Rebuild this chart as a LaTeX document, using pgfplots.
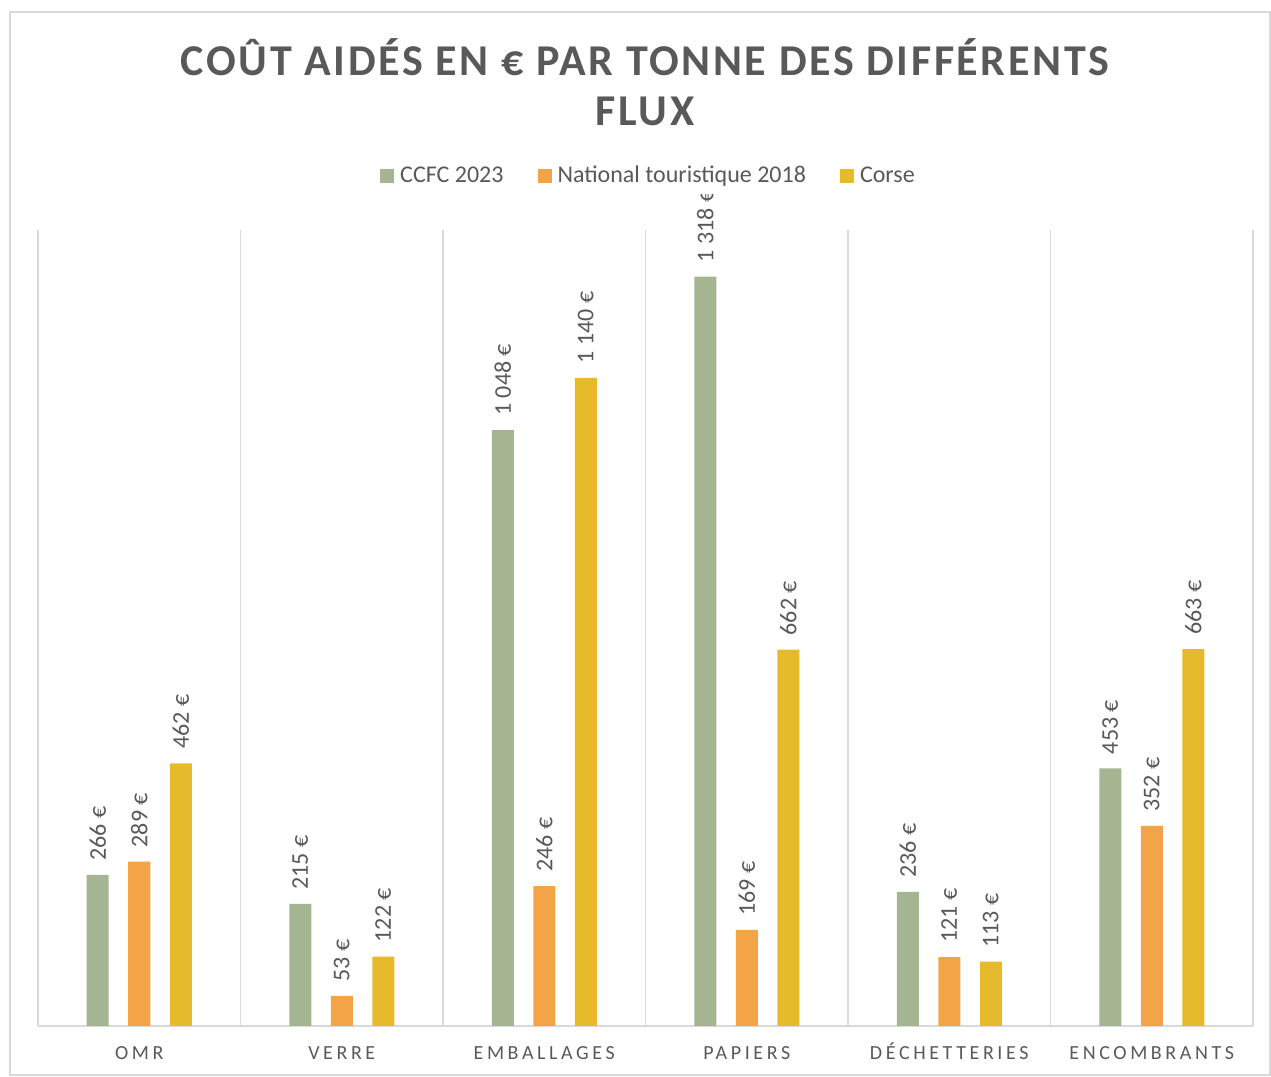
\documentclass[border=0pt]{standalone}
\usepackage{pgfplots}
\pgfplotsset{compat=1.18}
\usepackage{fontspec}
\setmainfont{Carlito}
\definecolor{cgreen}{HTML}{A5B592}
\definecolor{corange}{HTML}{F3A447}
\definecolor{cyellow}{HTML}{E6BA2A}
\definecolor{txt}{HTML}{595959}
\definecolor{gridc}{HTML}{D9D9D9}
\begin{document}
\begin{tikzpicture}
\useasboundingbox (0,0) rectangle (635.5pt,538.5pt);
\draw[gridc, line width=0.6pt] (5pt,1pt) rectangle (635pt,532.5pt);
\node[txt, align=center, font=\fontsize{22}{25}\selectfont\bfseries\addfontfeature{LetterSpace=6}]
  at (322.5pt,497.5pt) {COÛT AIDÉS EN € PAR TONNE DES DIFFÉRENTS\\FLUX};
\begin{axis}[
    at={(19pt,25.5pt)}, anchor=south west,
    scale only axis, width=607.5pt, height=398pt,
    ybar=9.75pt, bar width=11pt,
    xmin=-0.5, xmax=5.5, ymin=0, ymax=1400,
    axis x line*=bottom, axis y line=none,
    x axis line style={gridc, line width=0.8pt},
    xtick={0,...,5},
    xticklabels={OMR, VERRE, EMBALLAGES, PAPIERS, DÉCHETTERIES, ENCOMBRANTS},
    major tick length=0pt, minor tick length=0pt,
    minor xtick={-0.5,0.5,...,5.5},
    xminorgrids, minor grid style={gridc, line width=0.8pt},
    ytick=\empty,
    xticklabel style={text=txt, font=\fontsize{10}{12}\selectfont\addfontfeature{LetterSpace=18},
        anchor=base, yshift=-17pt},
    clip=false,
    /pgf/number format/.cd, fixed, precision=0, 1000 sep={\ }, assume math mode=true, /pgfplots/.cd,
    nodes near coords={\pgfmathprintnumber{\pgfplotspointmeta}~€},
    every node near coord/.append style={rotate=90, anchor=west, text=txt,
        font=\fontsize{12}{14}\selectfont, inner xsep=7pt},
    legend style={at={(0.5,1)}, anchor=south, xshift=2pt, yshift=18pt, draw=none,
        font=\fontsize{12}{14}\selectfont, text=txt,
        /tikz/every even column/.append style={column sep=15pt}},
    legend columns=3, legend cell align=left,
    legend image code/.code={\fill[#1] (0pt,-3.5pt) rectangle (7pt,3.5pt);},
    legend style={/tikz/every odd column/.append style={column sep=1pt}},
]
\addplot[fill=cgreen, draw=none] coordinates {(0,266) (1,215) (2,1048) (3,1318) (4,236) (5,453)};
\addplot[fill=corange, draw=none] coordinates {(0,289) (1,53) (2,246) (3,169) (4,121) (5,352)};
\addplot[fill=cyellow, draw=none] coordinates {(0,462) (1,122) (2,1140) (3,662) (4,113) (5,663)};
\legend{CCFC 2023, National touristique 2018, Corse}
\end{axis}
\end{tikzpicture}
\end{document}
